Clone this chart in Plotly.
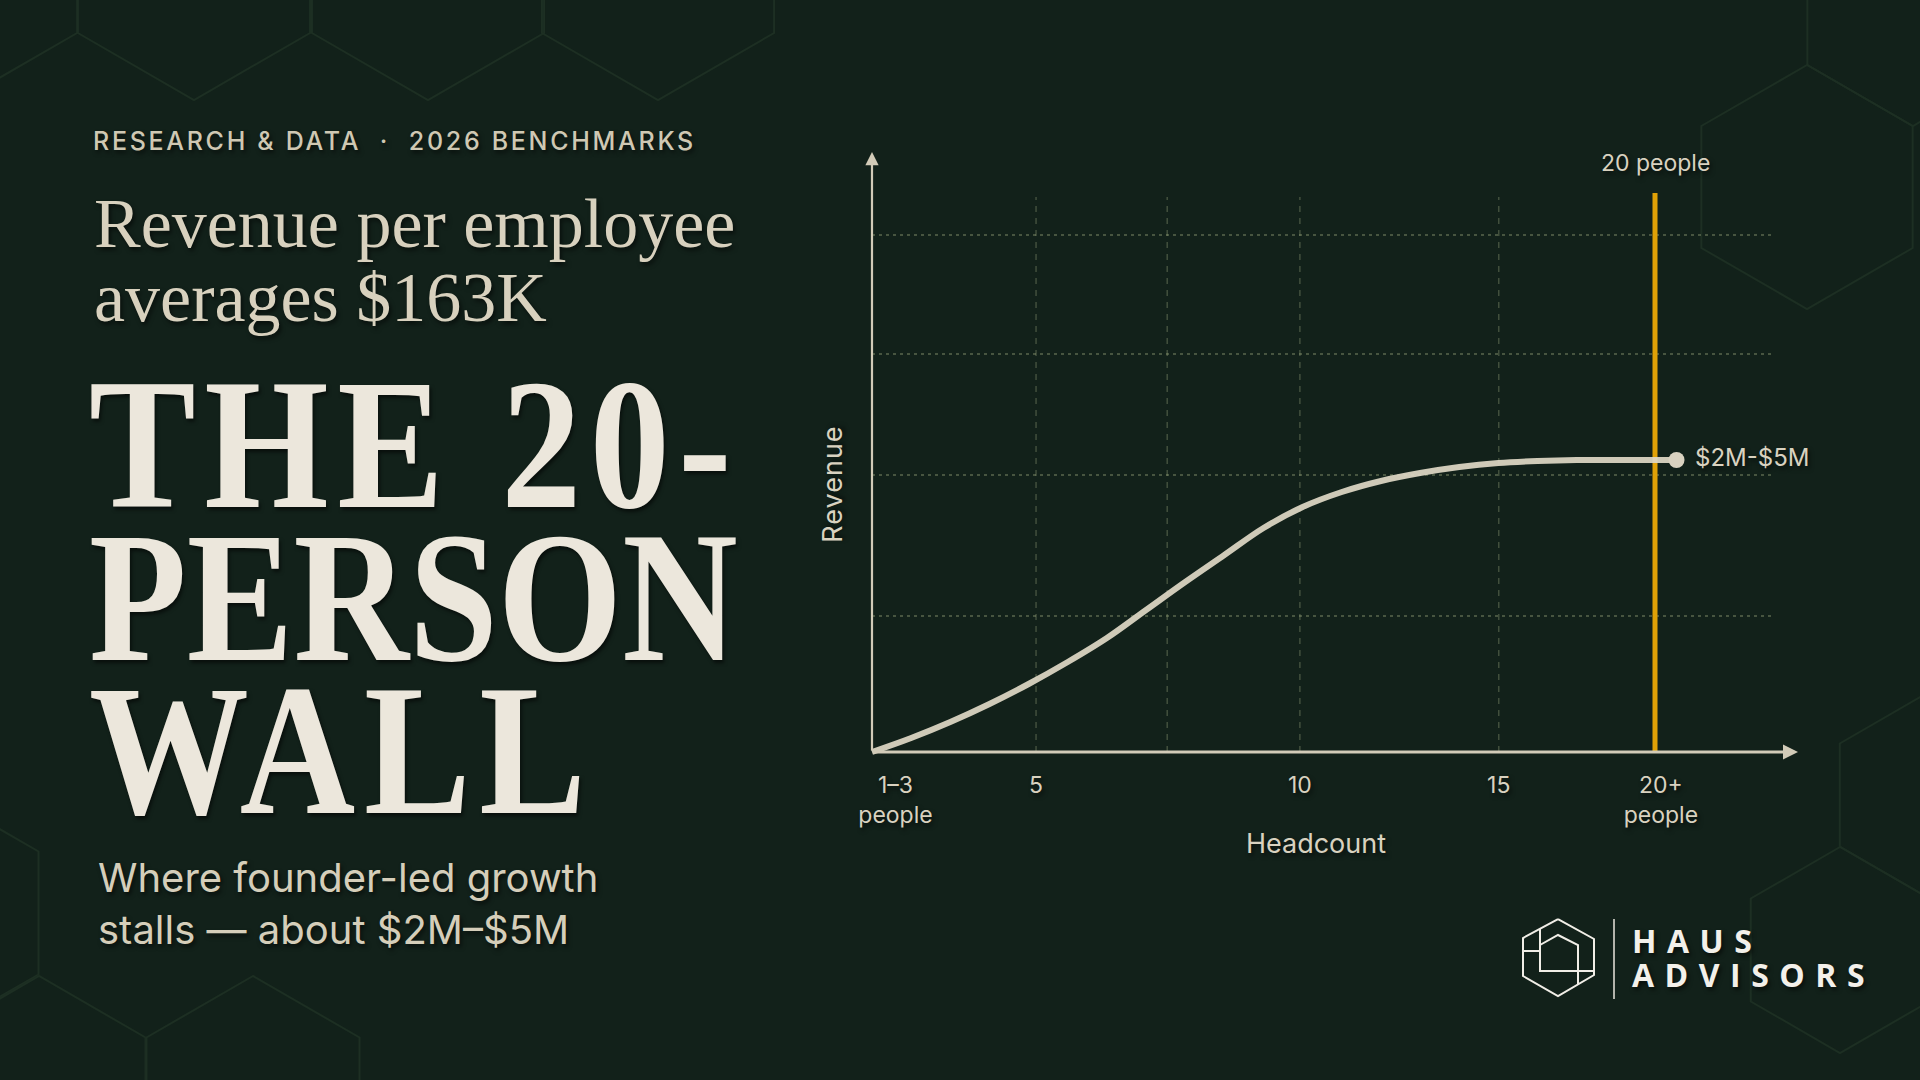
import math
import plotly.graph_objects as go

# ---------------- data (schematic units) ----------------
headcount_scale = [0, 1, 2, 3, 4, 5, 6, 7, 8, 9, 10, 11, 12, 13, 14, 15, 16, 17, 18, 19, 20, 20.55]
revenue_index = [0, 0.14, 0.30, 0.48, 0.68, 0.90, 1.14, 1.42, 1.70, 1.97, 2.24, 2.45, 2.60, 2.71,
                 2.79, 2.85, 2.89, 2.91, 2.92, 2.92, 2.92, 2.92]
tick_positions = [0.6, 4.19, 10.93, 16.01, 20.15]
tick_labels = ["1–3<br>people", "5", "10", "15", "20+<br>people"]
grid_x = [4.19, 7.54, 10.93, 16.01]
grid_y = [1.36, 2.77, 3.98, 5.17]
wall_headcount = 20
wall_label = "20 people"
plateau_label = "$2M-$5M"

kicker = "RESEARCH & DATA  ·  2026 BENCHMARKS"
headline = "Revenue per employee<br>averages $163K"
big_title = "THE 20-<br>PERSON<br>WALL"
subtitle = "Where founder-led growth<br>stalls — about $2M–$5M"
brand = "HAUS<br>ADVISORS"

# ---------------- layout constants ----------------
W, H = 1920, 1080
BG = "#12211a"
CREAM = "#d9d2c0"
AXIS = "#d2cbb8"
ORANGE = "#e0a106"
HEXLINE = "#1d2f23"
SHADOW = "2px 3px 4px rgba(0,0,0,0.55)"

X0, XS = 872, 39.15   # pixel of headcount 0, px per unit
Y0, YS = 752, 100.0   # pixel of revenue 0, px per unit


def ux(px):
    return (px - X0) / XS


def vy(py):
    return (Y0 - py) / YS


def P(x, y):
    return f"{x / W:.5f},{1 - y / H:.5f}"


def hex_path(cx, cy, s):
    pts = []
    for k in range(6):
        a = math.radians(90 + 60 * k)
        pts.append(P(cx + s * math.cos(a), cy - s * math.sin(a)))
    return "M " + " L ".join(pts) + " Z"


fig = go.Figure()

# curve
fig.add_trace(go.Scatter(
    x=headcount_scale, y=revenue_index, mode="lines",
    line=dict(color="rgba(222,215,197,0.93)", width=6, shape="spline", smoothing=1.0),
    hoverinfo="skip", cliponaxis=False))
# end dot
fig.add_trace(go.Scatter(
    x=[headcount_scale[-1]], y=[revenue_index[-1]], mode="markers",
    marker=dict(size=16, color=CREAM), hoverinfo="skip", cliponaxis=False))

shapes = []
# background hexagons
bg_hexes = [(-39, -34, 134), (194, -34, 134), (428, -34, 134), (658, -34, 134),
            (1807, 187, 122), (1913, 4, 122),
            (1929, 795, 103), (1840, 950, 103),
            (-68, 913, 123), (39, 1099, 123), (253, 1099, 123)]
for cx, cy, s in bg_hexes:
    shapes.append(dict(type="path", path=hex_path(cx, cy, s), xref="paper", yref="paper",
                       line=dict(color=HEXLINE, width=2), fillcolor="rgba(0,0,0,0)", layer="below"))

# grid
for gx in grid_x:
    shapes.append(dict(type="line", xref="x", yref="y", x0=gx, x1=gx, y0=0, y1=vy(197),
                       line=dict(color="rgba(140,152,118,0.45)", width=1.3, dash="6px,6px"), layer="below"))
for gy in grid_y:
    shapes.append(dict(type="line", xref="x", yref="y", x0=0, x1=ux(1771), y0=gy, y1=gy,
                       line=dict(color="rgba(150,160,120,0.55)", width=1.6, dash="3px,4px"), layer="below"))
# wall
shapes.append(dict(type="line", xref="x", yref="y", x0=wall_headcount, x1=wall_headcount, y0=0, y1=vy(193),
                   line=dict(color=ORANGE, width=5), layer="below"))

# logo icon
icon_paths = [
    [(1558, 919), (1594, 939), (1594, 975), (1558, 996), (1523, 976), (1523, 938), (1558, 919)],
    [(1540, 929), (1540, 971), (1594, 971)],
    [(1540, 945), (1558, 935), (1578, 945), (1578, 984)],
    [(1523, 951), (1540, 951)],
]
for pts in icon_paths:
    shapes.append(dict(type="path", xref="paper", yref="paper",
                       path="M " + " L ".join(P(x, y) for x, y in pts),
                       line=dict(color="#f1eee7", width=2), fillcolor="rgba(0,0,0,0)"))
shapes.append(dict(type="line", xref="paper", yref="paper", x0=1614 / W, x1=1614 / W,
                   y0=1 - 919 / H, y1=1 - 999 / H, line=dict(color="#e8e4dc", width=1.5)))

ann = []
# axis arrows
ann.append(dict(x=0, y=vy(152), ax=0, ay=0, xref="x", yref="y", axref="x", ayref="y", text="",
                showarrow=True, arrowhead=2, arrowsize=1.2, arrowwidth=2.2, arrowcolor=AXIS, standoff=0))
ann.append(dict(x=ux(1798), y=0, ax=0, ay=0, xref="x", yref="y", axref="x", ayref="y", text="",
                showarrow=True, arrowhead=2, arrowsize=1.0, arrowwidth=3, arrowcolor=AXIS, standoff=0))
# chart labels
ann.append(dict(x=wall_headcount, y=vy(163), xref="x", yref="y", text=wall_label, showarrow=False,
                xanchor="center", yanchor="middle",
                font=dict(family="Inter", size=23, color=CREAM, shadow=SHADOW)))
ann.append(dict(x=headcount_scale[-1], y=revenue_index[-1], xref="x", yref="y", text=plateau_label,
                showarrow=False, xanchor="left", yanchor="middle", xshift=16, yshift=2,
                font=dict(family="Inter", size=24, color=CREAM, shadow=SHADOW)))

# left text block
ann.append(dict(x=91 / W, y=1 - 124 / H, xref="paper", yref="paper", text=kicker, showarrow=False,
                xanchor="left", yanchor="top", align="left",
                font=dict(family="Inter", size=25, color="#cfc8b3", weight=500, shadow=SHADOW)))
ann.append(dict(x=92 / W, y=1 - 183 / H, xref="paper", yref="paper", text=headline, showarrow=False,
                xanchor="left", yanchor="top", align="left",
                font=dict(family="Liberation Serif", size=70, color="#d8d1be", shadow=SHADOW)))
ann.append(dict(x=87 / W, y=1 - 339 / H, xref="paper", yref="paper", text=big_title, showarrow=False,
                xanchor="left", yanchor="top", align="left",
                font=dict(family="Liberation Serif", size=186, color="#ece7dc", weight=700, shadow=SHADOW)))
ann.append(dict(x=96 / W, y=1 - 851 / H, xref="paper", yref="paper", text=subtitle, showarrow=False,
                xanchor="left", yanchor="top", align="left",
                font=dict(family="Inter", size=40, color="#d5ceba", shadow=SHADOW)))
ann.append(dict(x=1630 / W, y=1 - 917 / H, xref="paper", yref="paper", text=brand, showarrow=False,
                xanchor="left", yanchor="top", align="left",
                font=dict(family="Open Sans", size=32, color="#f3f0ea", weight=700, shadow=SHADOW)))

fig.update_layout(
    width=W, height=H, template="none",
    paper_bgcolor=BG, plot_bgcolor="rgba(0,0,0,0)",
    margin=dict(l=0, r=0, t=0, b=0), showlegend=False,
    shapes=shapes, annotations=ann,
    xaxis=dict(domain=[832 / W, 1800 / W], range=[ux(832), ux(1800)],
               anchor="free", position=(H - Y0) / H,
               showgrid=False, zeroline=False, showline=False, ticks="",
               tickvals=tick_positions, ticktext=tick_labels, ticklabelstandoff=17,
               tickfont=dict(family="Inter", size=23, color=CREAM, shadow=SHADOW),
               title=dict(text="Headcount", standoff=6,
                          font=dict(family="Inter", size=27, color=CREAM, shadow=SHADOW))),
    yaxis=dict(domain=[(H - 818) / H, (H - 150) / H], range=[vy(818), vy(150)],
               anchor="free", position=X0 / W,
               showgrid=False, zeroline=False, showline=False, ticks="", showticklabels=False,
               title=dict(text="Revenue", standoff=20,
                          font=dict(family="Inter", size=27, color=CREAM, shadow=SHADOW))),
)

post = """
document.body.style.margin='0';
document.body.style.overflow='hidden';
var gd = document.getElementById('{plot_id}');
function fixText(){
  gd.querySelectorAll('text.annotation-text').forEach(function(t){
    var s = t.textContent;
    var lines = t.querySelectorAll('tspan.line');
    function spacing(k){ lines.forEach(function(ts,i){ ts.setAttribute('dy', (i*k)+'em'); }); }
    if (s.indexOf('THE 20-')===0){
      spacing(0.823);
      if (lines.length===3){ lines[0].style.letterSpacing='10px'; lines[2].style.letterSpacing='10px'; }
      t.style.transformBox='fill-box'; t.style.transformOrigin='0% 0%'; t.style.transform='scaleX(0.86)';
    } else if (s.indexOf('Revenue per')===0){
      spacing(1.06);
    } else if (s.indexOf('RESEARCH')===0){
      t.style.letterSpacing='2.7px';
    } else if (s.indexOf('HAUS')===0){
      spacing(1.06); t.style.letterSpacing='10.5px';
    }
  });
  var yt = gd.querySelector('text.ytitle');
  if (yt) { yt.style.letterSpacing='1px'; }
}
fixText();
gd.on('plotly_afterplot', fixText);
"""

fig.write_html("out.html", config={"displayModeBar": False}, post_script=post)
